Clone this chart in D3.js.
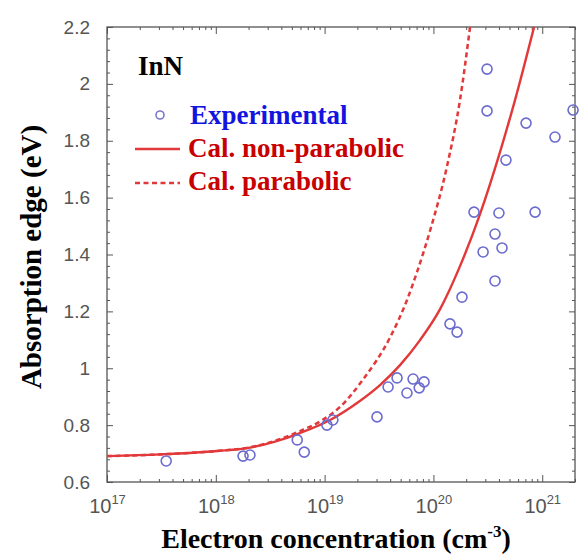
<!DOCTYPE html>
<html>
<head>
<meta charset="utf-8">
<script src="https://cdn.jsdelivr.net/npm/d3@7"></script>
<style>
  html, body { margin: 0; padding: 0; background: #fff; }
  svg { display: block; }
</style>
</head>
<body>
<div id="chart"></div>
<script>
// ---------------- data ----------------
const expN = [3.5e17, 1.78e18, 2.06e18, 5.6e18, 6.5e18, 1.05e19, 1.19e19, 3.03e19, 3.83e19, 4.63e19,
              5.71e19, 6.5e19, 7.4e19, 8.2e19, 1.42e20, 1.65e20, 1.83e20, 2.36e20, 2.86e20, 3.68e20,
              3.68e20, 4.0e20, 4.27e20, 8.6e20, 4.64e20, 3.11e20, 3.11e20, 7.1e20, 1.31e21, 1.92e21];
const expE = [0.674, 0.691, 0.695, 0.748, 0.705, 0.800, 0.818, 0.829, 0.934, 0.966,
              0.913, 0.962, 0.931, 0.952, 1.156, 1.127, 1.250, 1.549, 1.409, 1.307,
              1.472, 1.546, 1.423, 1.549, 1.732, 1.905, 2.052, 1.862, 1.813, 1.908];

const nonParN = [1e17, 3.07e17, 1.026e18, 2.06e18, 3.5e18, 5.94e18, 1.122e19, 1.986e19, 3.228e19,
                 4.93e19, 7.53e19, 1.151e20, 1.755e20, 2.68e20, 4.09e20, 5.62e20, 8.41e20];
const nonParE = [0.691, 0.697, 0.709, 0.721, 0.742, 0.772, 0.818, 0.878, 0.941,
                 1.011, 1.099, 1.208, 1.359, 1.542, 1.760, 1.943, 2.200];

const parN = [1e17, 3.07e17, 1.026e18, 2.06e18, 3.5e18, 5.94e18, 9.08e18, 1.386e19, 2.25e19,
              3.99e19, 5.72e19, 7.06e19, 9.3e19, 1.334e20, 1.754e20, 2.17e20];
const parE = [0.691, 0.697, 0.709, 0.722, 0.745, 0.779, 0.813, 0.864, 0.960,
              1.108, 1.240, 1.338, 1.483, 1.711, 1.943, 2.200];

const yTicks = [0.6, 0.8, 1.0, 1.2, 1.4, 1.6, 1.8, 2.0, 2.2];
const yTickLabels = ["0.6", "0.8", "1", "1.2", "1.4", "1.6", "1.8", "2", "2.2"];
const xTickExps = [17, 18, 19, 20, 21];

const legendLabels = ["Experimental", "Cal. non-parabolic", "Cal. parabolic"];
const panelLabel = "InN";
const xTitle = "Electron concentration (cm";
const xTitleSup = "-3";
const yTitle = "Absorption edge (eV)";

// ---------------- layout ----------------
const W = 579, H = 559;
const L = 107, R = 575, T = 27, B = 482;

const svg = d3.select("#chart").append("svg").attr("width", W).attr("height", H);

const x = d3.scaleLog().domain([1e17, 2e21]).range([L, R]);
const y = d3.scaleLinear().domain([0.6, 2.2]).range([B, T]);

const frameColor = "#555";
const serif = "'Liberation Serif', 'Times New Roman', serif";
const sans = "'Liberation Sans', Arial, sans-serif";

// minor ticks
const yMinor = d3.range(0.6, 2.2001, 0.04).filter(v => !yTicks.some(t => Math.abs(t - v) < 1e-6));
const xMinor = [];
for (let e = 17; e <= 21; e++) for (let m = 2; m <= 9; m++) { const v = m * Math.pow(10, e); if (v <= 2.0001e21) xMinor.push(v); }
const xMajor = xTickExps.map(e => Math.pow(10, e));

// left axis
const gL = svg.append("g").attr("transform", `translate(${L},0)`)
  .call(d3.axisLeft(y).tickValues(yTicks).tickSize(-6).tickPadding(17)
        .tickFormat((d, i) => yTickLabels[i]));
gL.select(".domain").remove();
gL.selectAll("text").attr("font-family", sans).attr("font-size", 19).attr("fill", "#555");
gL.selectAll("line").attr("stroke", frameColor);
const gLm = svg.append("g").attr("transform", `translate(${L},0)`)
  .call(d3.axisLeft(y).tickValues(yMinor).tickSize(-3).tickFormat(""));
gLm.select(".domain").remove(); gLm.selectAll("line").attr("stroke", frameColor);

// right axis
const gR = svg.append("g").attr("transform", `translate(${R},0)`)
  .call(d3.axisRight(y).tickValues(yTicks).tickSize(-6).tickFormat(""));
gR.select(".domain").remove(); gR.selectAll("line").attr("stroke", frameColor);
const gRm = svg.append("g").attr("transform", `translate(${R},0)`)
  .call(d3.axisRight(y).tickValues(yMinor).tickSize(-3).tickFormat(""));
gRm.select(".domain").remove(); gRm.selectAll("line").attr("stroke", frameColor);

// bottom axis
const gB = svg.append("g").attr("transform", `translate(0,${B})`)
  .call(d3.axisBottom(x).tickValues(xMajor).tickSize(-7).tickPadding(18).tickFormat(""));
gB.select(".domain").remove(); gB.selectAll("line").attr("stroke", frameColor);
gB.selectAll(".tick").each(function(d, i) {
  const t = d3.select(this).append("text")
    .attr("y", 31).attr("text-anchor", "middle")
    .attr("font-family", sans).attr("font-size", 20).attr("fill", "#555");
  t.append("tspan").text("10");
  t.append("tspan").attr("dy", -9).attr("font-size", 13).text(String(xTickExps[i]));
});
const gBm = svg.append("g").attr("transform", `translate(0,${B})`)
  .call(d3.axisBottom(x).tickValues(xMinor).tickSize(-3).tickFormat(""));
gBm.select(".domain").remove(); gBm.selectAll("line").attr("stroke", frameColor);

// top axis
const gT = svg.append("g").attr("transform", `translate(0,${T})`)
  .call(d3.axisTop(x).tickValues(xMajor).tickSize(-7).tickFormat(""));
gT.select(".domain").remove(); gT.selectAll("line").attr("stroke", frameColor);
const gTm = svg.append("g").attr("transform", `translate(0,${T})`)
  .call(d3.axisTop(x).tickValues(xMinor).tickSize(-3).tickFormat(""));
gTm.select(".domain").remove(); gTm.selectAll("line").attr("stroke", frameColor);

// frame
svg.append("rect").attr("x", L).attr("y", T).attr("width", R - L).attr("height", B - T)
  .attr("fill", "none").attr("stroke", frameColor).attr("stroke-width", 1.3);

// clip
svg.append("clipPath").attr("id", "clip").append("rect")
  .attr("x", L).attr("y", T).attr("width", R - L).attr("height", B - T);

const line = d3.line().x(d => x(d[0])).y(d => y(d[1])).curve(d3.curveMonotoneX);
const red = "#e2383a";

const plot = svg.append("g");
plot.append("path").datum(d3.zip(parN, parE)).attr("d", line)
  .attr("fill", "none").attr("stroke", red).attr("stroke-width", 2.5).attr("stroke-dasharray", "5,3.5")
  .attr("clip-path", "url(#clip)");
plot.append("path").datum(d3.zip(nonParN, nonParE)).attr("d", line)
  .attr("fill", "none").attr("stroke", red).attr("stroke-width", 2.4)
  .attr("clip-path", "url(#clip)");

plot.selectAll("circle.exp").data(d3.zip(expN, expE)).join("circle").attr("class", "exp")
  .attr("cx", d => x(d[0])).attr("cy", d => y(d[1])).attr("r", 5)
  .attr("fill", "none").attr("stroke", "#6b6bd0").attr("stroke-width", 1.6);

// legend
svg.append("text").attr("x", 138).attr("y", 75).text(panelLabel)
  .attr("font-family", serif).attr("font-weight", "bold").attr("font-size", 27).attr("fill", "#000");

svg.append("circle").attr("cx", 160).attr("cy", 115).attr("r", 4)
  .attr("fill", "none").attr("stroke", "#7878c8").attr("stroke-width", 1.6);
svg.append("text").attr("x", 190).attr("y", 124).text(legendLabels[0])
  .attr("font-family", serif).attr("font-weight", "bold").attr("font-size", 27).attr("fill", "#1414e0");

svg.append("line").attr("x1", 135).attr("x2", 180).attr("y1", 149).attr("y2", 149)
  .attr("stroke", red).attr("stroke-width", 2.4);
svg.append("text").attr("x", 188).attr("y", 157).text(legendLabels[1])
  .attr("font-family", serif).attr("font-weight", "bold").attr("font-size", 27).attr("fill", "#c80000");

svg.append("line").attr("x1", 135).attr("x2", 180).attr("y1", 183).attr("y2", 183)
  .attr("stroke", red).attr("stroke-width", 2.4).attr("stroke-dasharray", "5,3.5");
svg.append("text").attr("x", 188).attr("y", 190).text(legendLabels[2])
  .attr("font-family", serif).attr("font-weight", "bold").attr("font-size", 27).attr("fill", "#c80000");

// axis titles
const xt = svg.append("text").attr("x", 336).attr("y", 548).attr("text-anchor", "middle")
  .attr("font-family", serif).attr("font-weight", "bold").attr("font-size", 28).attr("fill", "#000");
xt.append("tspan").text(xTitle);
xt.append("tspan").attr("dy", -11).attr("font-size", 17).text(xTitleSup);
xt.append("tspan").attr("dy", 11).text(")");

svg.append("text").attr("transform", `translate(41,257) rotate(-90)`).attr("text-anchor", "middle")
  .attr("font-family", serif).attr("font-weight", "bold").attr("font-size", 29).attr("fill", "#000")
  .text(yTitle);
</script>
</body>
</html>
